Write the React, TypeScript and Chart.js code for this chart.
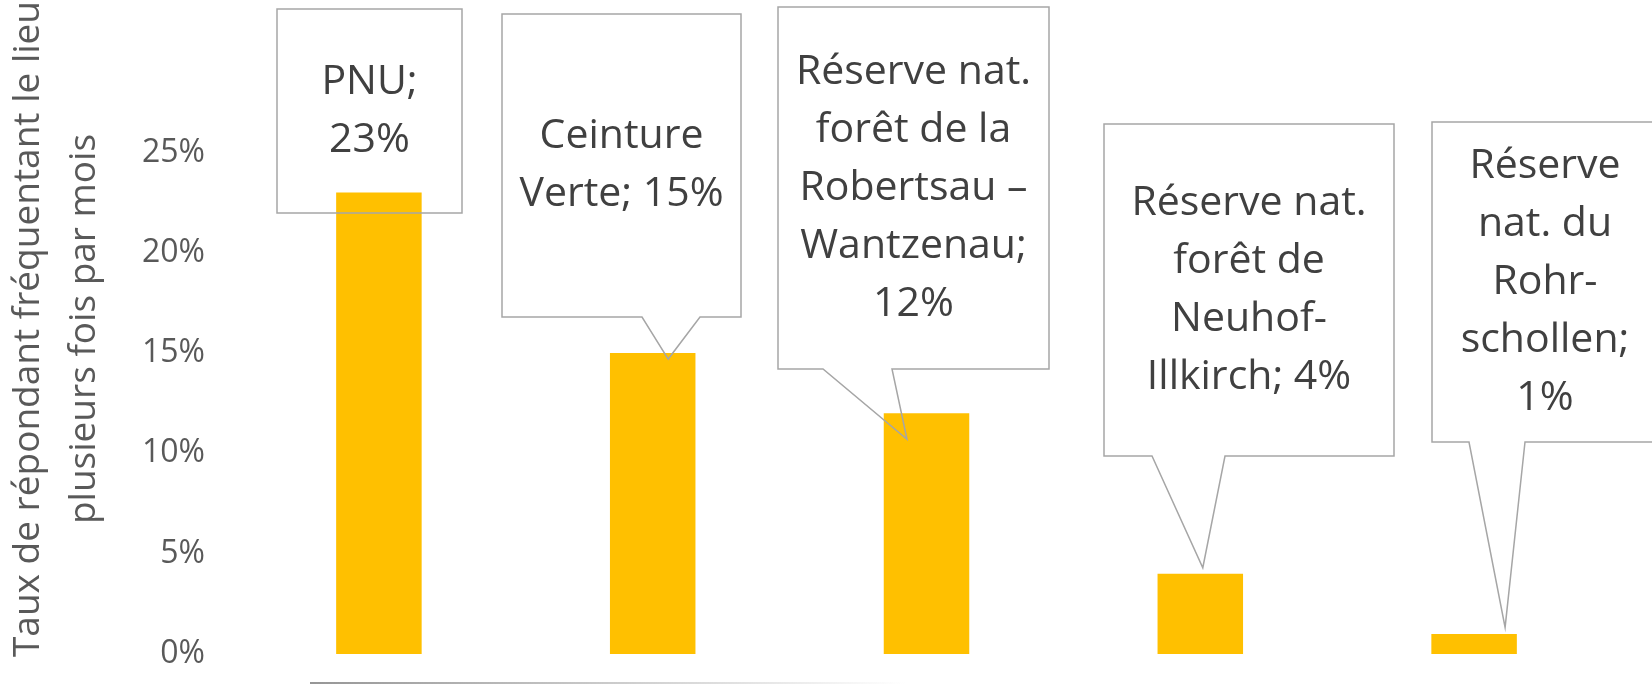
import React, { useEffect, useRef } from "react";
import { Chart, registerables } from "chart.js";

Chart.register(...registerables);

// ---- Data ----
const CATEGORIES = [
  "PNU",
  "Ceinture Verte",
  "Réserve nat. forêt de la Robertsau – Wantzenau",
  "Réserve nat. forêt de Neuhof-Illkirch",
  "Réserve nat. du Rohr-schollen",
];
const VALUES = [0.23, 0.15, 0.12, 0.04, 0.01];
const Y_TICKS = [0, 0.05, 0.1, 0.15, 0.2, 0.25];
const Y_TITLE = ["Taux de répondant fréquentant le lieu", "plusieurs fois par mois"];

// ---- Callout layout (annotation boxes, pixels) ----
const CALLOUT_LAYOUT = [
  { x0: 277, x1: 462, y0: 9, y1: 213, ptr: null as null | number[] },
  { x0: 502, x1: 741, y0: 14, y1: 317, ptr: [642, 700, 15.5, 6] },
  { x0: 778, x1: 1049, y0: 7, y1: 369, ptr: [823, 892, -19.5, 26] },
  { x0: 1104, x1: 1394, y0: 124, y1: 456, ptr: [1152, 1225, 2.5, -6] },
  { x0: 1432, x1: 1658, y0: 122, y1: 442, ptr: [1469, 1525, 31, -6.5] },
];

const FONT = '"Open Sans", "Noto Sans", sans-serif';

function pct(v: number) {
  return Math.round(v * 100) + "%";
}

function wrap(ctx: CanvasRenderingContext2D, text: string, maxW: number) {
  const tokens: { t: string; sp: boolean }[] = [];
  text.split(" ").forEach((w, i) => {
    const parts = w.split(/(?<=-)/);
    parts.forEach((p, j) => tokens.push({ t: p, sp: i > 0 && j === 0 }));
  });
  const lines: string[] = [];
  let cur = "";
  for (const tk of tokens) {
    const cand = cur === "" ? tk.t : cur + (tk.sp ? " " : "") + tk.t;
    if (cur !== "" && ctx.measureText(cand).width > maxW) {
      lines.push(cur);
      cur = tk.t;
    } else {
      cur = cand;
    }
  }
  if (cur) lines.push(cur);
  return lines;
}

const calloutPlugin = {
  id: "callouts",
  afterDatasetsDraw(chart: any) {
    const ctx: CanvasRenderingContext2D = chart.ctx;
    const meta = chart.getDatasetMeta(0);
    ctx.save();
    ctx.font = `41px ${FONT}`;
    CALLOUT_LAYOUT.forEach((b, i) => {
      const el = meta.data[i];
      ctx.beginPath();
      ctx.moveTo(b.x0, b.y0);
      ctx.lineTo(b.x1, b.y0);
      ctx.lineTo(b.x1, b.y1);
      if (b.ptr) {
        ctx.lineTo(b.ptr[1], b.y1);
        ctx.lineTo(el.x + b.ptr[2], el.y + b.ptr[3]);
        ctx.lineTo(b.ptr[0], b.y1);
      }
      ctx.lineTo(b.x0, b.y1);
      ctx.closePath();
      ctx.strokeStyle = "#A6A6A6";
      ctx.lineWidth = 1.5;
      ctx.stroke();

      const text = `${CATEGORIES[i]}; ${pct(VALUES[i])}`;
      const lines = wrap(ctx, text, b.x1 - b.x0 - 20);
      const cx = (b.x0 + b.x1) / 2;
      const cy = (b.y0 + b.y1) / 2;
      ctx.fillStyle = "#404040";
      ctx.textAlign = "center";
      ctx.textBaseline = "middle";
      lines.forEach((ln, k) => {
        ctx.fillText(ln, cx, cy + (k - (lines.length - 1) / 2) * 58);
      });
    });
    ctx.restore();
  },
  afterDraw(chart: any) {
    const ctx: CanvasRenderingContext2D = chart.ctx;
    ctx.save();
    const y = chart.height - 1;
    const g = ctx.createLinearGradient(310, 0, 906, 0);
    g.addColorStop(0, "rgba(150,150,150,1)");
    g.addColorStop(1, "rgba(150,150,150,0)");
    ctx.strokeStyle = g;
    ctx.lineWidth = 2;
    ctx.beginPath();
    ctx.moveTo(310, y);
    ctx.lineTo(906, y);
    ctx.stroke();
    ctx.restore();
  },
};

export default function App() {
  const ref = useRef<HTMLCanvasElement>(null);

  useEffect(() => {
    if (!ref.current) return;
    const chart = new Chart(ref.current, {
      type: "bar",
      data: {
        labels: CATEGORIES,
        datasets: [
          {
            data: VALUES,
            backgroundColor: "#FFC000",
            borderWidth: 0,
            barPercentage: 0.3123,
            categoryPercentage: 1,
          },
        ],
      },
      options: {
        animation: false,
        responsive: false,
        devicePixelRatio: 1,
        layout: { padding: { top: 4, right: 41, left: 0, bottom: 0 } },
        plugins: {
          legend: { display: false },
          tooltip: { enabled: false },
        },
        scales: {
          x: {
            type: "category",
            grid: { display: false, drawTicks: false },
            border: { display: false },
            ticks: { display: false },
            afterFit: (s: any) => {
              s.height = 30;
              s.paddingLeft = 0;
              s.paddingRight = 0;
            },
          },
          y: {
            min: 0,
            max: 0.324,
            grid: { display: false, drawTicks: false },
            border: { display: false },
            afterBuildTicks: (s: any) => {
              s.ticks = Y_TICKS.map((v) => ({ value: v }));
            },
            ticks: {
              padding: 37,
              color: "#595959",
              font: { family: FONT, size: 32 },
              callback: (v: any) => pct(Number(v)),
            },
            title: {
              display: true,
              text: Y_TITLE,
              color: "#595959",
              font: { family: FONT, size: 37, lineHeight: "56px" },
              padding: { top: 0, bottom: 0 },
            },
            afterFit: (s: any) => {
              s.width = 242;
              s.paddingTop = 0;
              s.paddingBottom = 0;
            },
          },
        },
      } as any,
      plugins: [calloutPlugin],
    });
    return () => chart.destroy();
  }, []);

  return (
    <div style={{ position: "absolute", left: 0, top: 0, width: 1652, height: 684, background: "#fff" }}>
      <canvas ref={ref} width={1652} height={684} style={{ display: "block" }} />
    </div>
  );
}
